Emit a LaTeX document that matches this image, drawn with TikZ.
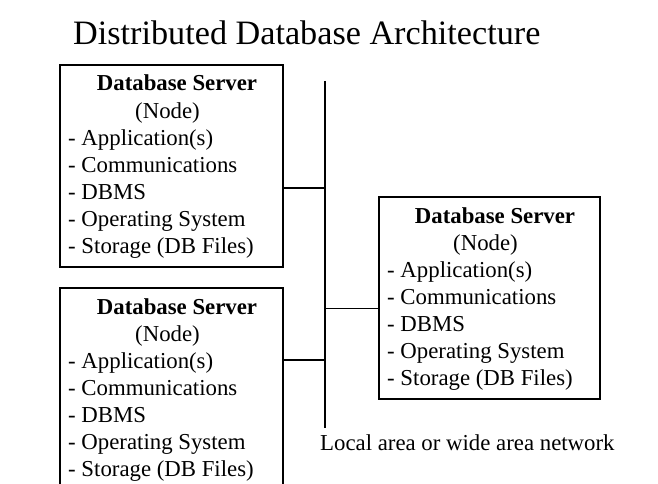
\documentclass[tikz,border=0pt]{standalone}
\usepackage{fontspec}
\setmainfont{Liberation Serif}
\newcommand\serverlines[1]{%
  \node[txt,anchor=base] (#1-t) at ([xshift=5.5pt,yshift=-26pt]#1.north) {\bfseries Database Server};
  \node[txt,anchor=base] (#1-n) at ([xshift=-4pt,yshift=-53pt]#1.north) {(Node)};
  \node[txt,anchor=base west] (#1-a) at ([xshift=8pt,yshift=-80pt]#1.north west) {- Application(s)};
  \node[txt,anchor=base west] (#1-c) at ([xshift=8pt,yshift=-107pt]#1.north west) {- Communications};
  \node[txt,anchor=base west] (#1-d) at ([xshift=8pt,yshift=-134pt]#1.north west) {- DBMS};
  \node[txt,anchor=base west] (#1-o) at ([xshift=8pt,yshift=-161pt]#1.north west) {- Operating System};
  \node[txt,anchor=base west] (#1-s) at ([xshift=8pt,yshift=-188pt]#1.north west) {- Storage (DB Files)};
}
\begin{document}
\begin{tikzpicture}[x=1pt,y=-1pt,
  serverbox/.style={draw, line width=1.4pt, anchor=north west, inner sep=0pt, outer sep=0pt, minimum height=202pt},
  wire/.style={line width=1.4pt},
  txt/.style={font=\fontsize{22.8}{27}\selectfont, inner sep=0pt}]
\clip (0,0) rectangle (658,484);
\fill[white] (0,0) rectangle (658,484);
\node[inner sep=0pt, anchor=base west, font=\fontsize{34.2}{40}\selectfont] (title) at (73,45) {Distributed Database Architecture};
\node[serverbox, minimum width=223pt] (s1) at (60,65) {};
\node[serverbox, minimum width=223pt] (s2) at (60,288) {};
\node[serverbox, minimum width=221pt] (s3) at (379,197) {};
\serverlines{s1}
\serverlines{s2}
\serverlines{s3}
\coordinate (bustop) at (325,81);
\coordinate (busbot) at (325,428);
\draw[wire] (bustop) -- (busbot);
\path ([yshift=-22pt]s1.east) coordinate (c1);
\path ([yshift=29pt]s2.east) coordinate (c2);
\path ([yshift=-10.5pt]s3.west) coordinate (c3);
\draw[wire] (c1) -- (c1 -| bustop);
\draw[wire] (c2) -- (c2 -| bustop);
\draw[wire] (c3) -- (c3 -| bustop);
\node[txt, anchor=base west] (net) at (320,450) {Local area or wide area network};
\end{tikzpicture}
\end{document}
